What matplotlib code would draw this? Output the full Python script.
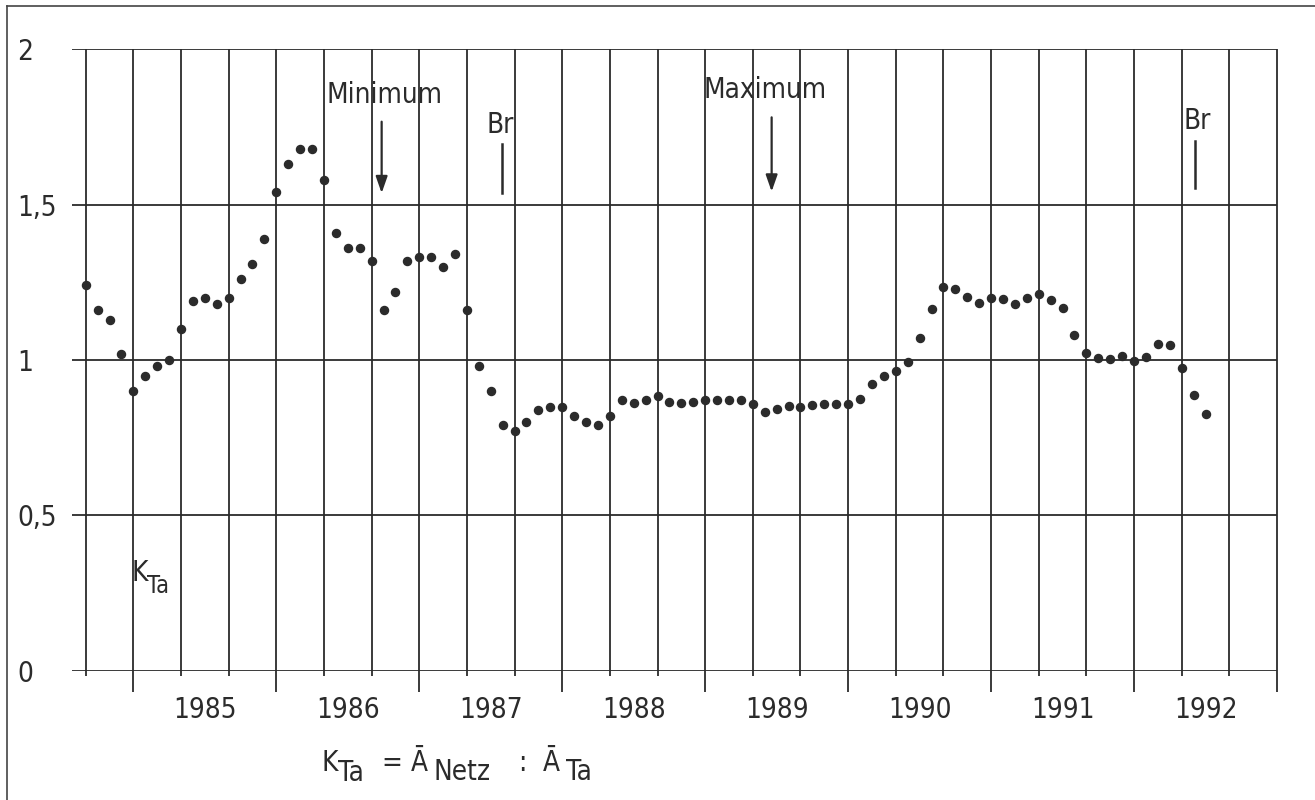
import numpy as np
import pandas as pd
import matplotlib.pyplot as plt
from matplotlib.lines import Line2D

INK = "#2b2b2b"
plt.rcParams["font.family"] = ["DejaVu Sans"]
plt.rcParams["font.stretch"] = "condensed"

# monthly K_Ta values (first value = Sep 1984)
kta_1984 = [1.24, 1.16, 1.13, 1.02]
kta_1985 = [0.90, 0.95, 0.98, 1.00, 1.10, 1.19, 1.20, 1.18, 1.20, 1.26, 1.31, 1.39]
kta_1986 = [1.54, 1.63, 1.68, 1.68, 1.58, 1.41, 1.36, 1.36, 1.32, 1.16, 1.22, 1.32]
kta_1987 = [1.33, 1.33, 1.30, 1.34, 1.16, 0.98, 0.90, 0.79, 0.77, 0.80, 0.84, 0.85]
kta_1988 = [0.85, 0.82, 0.80, 0.79, 0.82, 0.87, 0.86, 0.87, 0.885, 0.865, 0.86, 0.865]
kta_1989 = [0.87, 0.87, 0.87, 0.87, 0.857, 0.834, 0.843, 0.852, 0.849, 0.856, 0.858, 0.859]
kta_1990 = [0.859, 0.876, 0.924, 0.950, 0.965, 0.995, 1.072, 1.163, 1.236, 1.230, 1.203, 1.184]
kta_1991 = [1.199, 1.196, 1.181, 1.199, 1.213, 1.193, 1.166, 1.082, 1.023, 1.005, 1.003, 1.013]
kta_1992 = [0.998, 1.010, 1.053, 1.047, 0.974, 0.887, 0.827]

years = [1985, 1986, 1987, 1988, 1989, 1990, 1991, 1992]
ytick_vals = [0, 0.5, 1, 1.5, 2]
ytick_labels = ["0", "0,5", "1", "1,5", "2"]

kta = kta_1984 + kta_1985 + kta_1986 + kta_1987 + kta_1988 + kta_1989 + kta_1990 + kta_1991 + kta_1992
months = pd.period_range("1984-09", periods=len(kta), freq="M")
x = (months.year + (months.month - 1) / 12).to_numpy()

W, H = 1315, 800
fig = plt.figure(figsize=(W / 100, H / 100), dpi=100)
ax = fig.add_axes([72 / W, 1 - 670.7 / H, (1277 - 72) / W, (670.7 - 49.3) / H])
ax.set_xlim(1984.571, 1993.0)
ax.set_ylim(0, 2)
for s in ax.spines.values():
    s.set_visible(False)

# grid: horizontal every 0.5, vertical every 4 months, longer ticks at year boundaries
ax.hlines(ytick_vals, 1984.571, 1993.0, color=INK, lw=1.3)
grid_x = 1984 + 8 / 12 + np.arange(26) / 3
is_year = np.isclose(grid_x, np.round(grid_x))
ax.vlines(grid_x, np.where(is_year, -0.068, -0.017), 2, color=INK, lw=1.3, clip_on=False)

ax.plot(x, kta, "o", ms=5.8, color=INK, clip_on=False, zorder=3)

ax.set_xticks([y + 0.5 for y in years], labels=[str(y) for y in years])
ax.tick_params(axis="x", length=0, pad=18, labelsize=20, colors=INK)
ax.set_yticks(ytick_vals, labels=ytick_labels)
ax.tick_params(axis="y", length=0, pad=39.6, labelsize=20, colors=INK)
for lbl in ax.get_yticklabels():
    lbl.set_horizontalalignment("left")

arrow = dict(arrowstyle="-|>,head_width=0.35,head_length=1.0", color=INK, lw=1.6,
             shrinkA=0, shrinkB=0)
ax.annotate("", xy=(1986.737, 1.537), xytext=(1986.737, 1.767), arrowprops=arrow)
ax.text(1986.76, 1.853, "Minimum", ha="center", va="center", fontsize=20, color=INK)
ax.annotate("", xy=(1989.465, 1.542), xytext=(1989.465, 1.781), arrowprops=arrow)
ax.text(1989.418, 1.869, "Maximum", ha="center", va="center", fontsize=20, color=INK)

ax.plot([1987.577, 1987.577], [1.538, 1.695], color=INK, lw=1.8)
ax.text(1987.565, 1.755, "Br", ha="center", va="center", fontsize=20, color=INK)
ax.plot([1992.426, 1992.426], [1.553, 1.706], color=INK, lw=1.8)
ax.text(1992.44, 1.768, "Br", ha="center", va="center", fontsize=20, color=INK)


def put(px, py, s, size=20):
    # place a piece of lettering at pixel position (left, baseline)
    fig.text(px / W, 1 - py / H, s, ha="left", va="baseline", fontsize=size, color=INK)


# curve label inside the plot
put(132, 581, "K")
put(147, 593, "Ta", 17)

# formula under the chart
put(321, 771, "K")
put(338, 781, "Ta")
put(381, 771, "=")
put(411, 771, "\u0100")
put(434, 780, "Netz")
put(518, 771, ":")
put(543, 771, "\u0100")
put(566, 780, "Ta")

# scanned page frame (left and top edges)
fig.add_artist(Line2D([7 / W, 7 / W], [0, 1 - 6 / H], transform=fig.transFigure, color="#444444", lw=1.2))
fig.add_artist(Line2D([7 / W, 1], [1 - 6 / H, 1 - 6 / H], transform=fig.transFigure, color="#444444", lw=1.2))

fig.savefig("out.png", dpi=100)
